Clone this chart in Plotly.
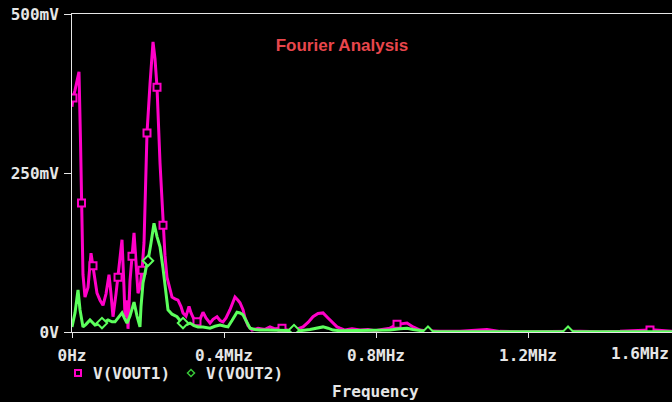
import numpy as np
import plotly.graph_objects as go

# ---------------- data (frequency in kHz, amplitude in mV) ----------------
freq_vout1 = [0, 2.6, 7.9, 18.4, 22.4, 25.0, 28.9, 34.2, 42.1, 50.0, 55.3, 65.8, 73.7,
              81.6, 89.5, 97.4, 102.6, 107.9, 115.8, 121.1, 131.6, 136.8, 139.5, 144.7,
              147.4, 152.6, 157.9, 163.2, 168.4, 173.7, 178.9, 184.2, 189.5, 192.1, 197.4,
              205.3, 213.2, 218.4, 223.7, 231.6, 239.5, 244.7, 250.0, 257.9, 263.2, 271.1,
              278.9, 286.8, 292.1, 300.0, 307.9, 313.2, 321.1, 328.9, 336.8, 344.7, 352.6,
              363.2, 371.1, 381.6, 389.5, 397.4, 405.3, 415.8, 428.9, 436.8, 442.1, 450.0,
              455.3, 463.2, 473.7, 489.5, 507.9, 521.1, 534.2, 552.6, 565.8, 581.6, 594.7,
              607.9, 621.1, 634.2, 647.4, 660.5, 673.7, 686.8, 697.4, 705.3, 718.4, 736.8,
              757.9, 778.9, 797.4, 815.8, 836.8, 855.3, 868.4, 881.6, 889.5, 897.4, 915.8,
              928.9, 968.4, 1021.0, 1092.0, 1126.0, 1179.0, 1232.0, 1284.0, 1337.0, 1389.0,
              1442.0, 1521.0, 1534.0, 1579.0]
vout1_mV = [354, 368, 380, 409, 300, 203, 90, 55, 70, 124, 104, 61, 50,
            42, 60, 90, 60, 24, 60, 86, 145, 70, 24, 50,
            5, 80, 119, 156, 110, 61, 70, 97, 140, 212, 313,
            390, 456, 430, 385, 266, 168, 120, 86, 65, 55, 52,
            50, 40, 30, 25, 40, 30, 20, 16, 20, 31, 22,
            14, 20, 24, 18, 16, 22, 35, 55, 50, 46, 35,
            22, 10, 3, 6, 4, 8, 5, 6, 3, 2, 5,
            8, 15, 24, 29, 30, 22, 14, 8, 6, 3, 5,
            3, 4, 2, 4, 6, 12, 13, 14, 11, 8, 3,
            2, 1, 1, 4, 1, 0.5, 1, 0.5, 1, 0.5,
            1, 3, 3, 1]
markers_vout1 = [2.6, 25.0, 55.3, 121.1, 157.9, 184.2, 197.4, 223.7, 239.5, 328.9,
                 552.6, 855.3, 1521.0]

freq_vout2 = [0, 7.9, 15.8, 21.1, 28.9, 36.8, 47.4, 55.3, 60.5, 71.1, 78.9, 86.8, 94.7,
              105.3, 113.2, 121.1, 131.6, 139.5, 144.7, 152.6, 163.2, 171.1, 178.9, 181.6,
              186.8, 194.7, 200.0, 207.9, 215.8, 223.7, 231.6, 239.5, 244.7, 252.6, 263.2,
              276.3, 284.2, 292.1, 302.6, 310.5, 321.1, 331.6, 344.7, 363.2, 376.3, 389.5,
              402.6, 410.5, 421.1, 434.2, 442.1, 450.0, 460.5, 468.4, 481.6, 494.7, 513.2,
              534.2, 560.5, 584.2, 600.0, 626.3, 647.4, 660.5, 673.7, 686.8, 705.3, 731.6,
              757.9, 784.2, 810.5, 836.8, 863.2, 881.6, 897.4, 915.8, 936.8, 1000.0, 1100.0,
              1200.0, 1305.3, 1400.0, 1500.0, 1579.0]
vout2_mV = [8, 30, 66, 35, 8, 12, 19, 14, 11, 13, 14, 16, 19,
            16, 16, 22, 30, 20, 14, 25, 47, 25, 8, 40,
            77, 100, 112, 140, 171, 150, 134, 100, 77, 35, 28,
            24, 18, 14, 12, 14, 10, 8, 8, 6, 9, 11,
            9, 8, 18, 31, 30, 27, 15, 6, 4, 3, 3,
            3, 3, 3, 2, 4, 7, 8, 6, 3, 2, 2,
            2, 3, 2, 3, 5, 6, 4, 2, 0.5, 0.5, 0.5,
            0.5, 0.5, 0.5, 0.5, 0.5]
markers_vout2 = [78.9, 200.0, 292.1, 584.2, 936.8, 1305.3]

x_tickvals = [0, 400, 800, 1200]
x_ticktext = ["0Hz", "0.4MHz", "0.8MHz", "1.2MHz"]
y_tickvals = [0, 250, 500]
y_ticktext = ["0V", "250mV", "500mV"]

# ---------------- style ----------------
PINK = "#ff00c8"
GREEN = "#5cff5c"
GREEN_DARK = "#38c838"
AXIS = "#e6e6e6"
MONO = dict(family="DejaVu Sans Mono", size=16, color=AXIS, weight="bold")

fig = go.Figure()

f1 = np.array(freq_vout1)
v1 = np.array(vout1_mV)
m1 = np.isin(f1, markers_vout1)
f2 = np.array(freq_vout2)
v2 = np.array(vout2_mV)
m2 = np.isin(f2, markers_vout2)

fig.add_trace(go.Scatter(x=f1, y=v1, mode="lines", name="V(VOUT1)",
                         line=dict(color=PINK, width=3), showlegend=False))
fig.add_trace(go.Scatter(x=f1[m1], y=v1[m1], mode="markers", name="V(VOUT1)",
                         marker=dict(symbol="square", size=7, color="black",
                                     line=dict(color=PINK, width=2)),
                         showlegend=False))
fig.add_trace(go.Scatter(x=f2, y=v2, mode="lines", name="V(VOUT2)",
                         line=dict(color=GREEN, width=3), showlegend=False))
fig.add_trace(go.Scatter(x=f2[m2], y=v2[m2], mode="markers", name="V(VOUT2)",
                         marker=dict(symbol="diamond", size=8, color="black",
                                     line=dict(color=GREEN, width=2)),
                         showlegend=False))

W, H = 672, 402
L, R, T, B = 72, 0, 14, 70
PW, PH = W - L - R, H - T - B


def px(xp):
    return (xp - L) / PW


def py(yp):
    return (H - B - yp) / PH


fig.update_layout(
    width=W, height=H,
    margin=dict(l=L, r=R, t=T, b=B, pad=0),
    paper_bgcolor="black", plot_bgcolor="black",
    showlegend=False,
    title=dict(text="Fourier Analysis", x=342 / W, xanchor="center",
               y=1 - 45 / H, yanchor="middle",
               font=dict(family="Liberation Sans", size=17, color="#e8464c",
                         weight="bold")),
    xaxis=dict(range=[0, 1578.9], showgrid=False, zeroline=False,
               showline=True, linecolor=AXIS, linewidth=1, mirror=True,
               ticks="outside", ticklen=5, tickcolor=AXIS, tickwidth=1,
               tickvals=x_tickvals, ticktext=x_ticktext, tickfont=MONO,
               ticklabelstandoff=4),
    yaxis=dict(range=[0, 500], showgrid=False, zeroline=False,
               showline=True, linecolor=AXIS, linewidth=1,
               ticks="outside", ticklen=7, tickcolor=AXIS, tickwidth=1,
               tickvals=y_tickvals, ticktext=y_ticktext, tickfont=MONO,
               ticklabelstandoff=2),
)

# 1.6MHz label (at the right edge, as in the original)
fig.add_annotation(text="1.6MHz", xref="paper", yref="paper",
                   x=px(671), y=py(353), xanchor="right", yanchor="middle",
                   showarrow=False, font=MONO)

# x-axis title
fig.add_annotation(text="Frequency", xref="paper", yref="paper",
                   x=px(375), y=py(391), xanchor="center", yanchor="middle",
                   showarrow=False, font=MONO)

# legend (symbol + label)
fig.add_annotation(text="V(VOUT1)", xref="paper", yref="paper",
                   x=px(91), y=py(373), xanchor="left", yanchor="middle",
                   showarrow=False, font=MONO)
fig.add_annotation(text="V(VOUT2)", xref="paper", yref="paper",
                   x=px(204), y=py(373), xanchor="left", yanchor="middle",
                   showarrow=False, font=MONO)
fig.add_shape(type="rect", xref="paper", yref="paper",
              x0=px(75), x1=px(81), y0=py(376), y1=py(370),
              line=dict(color=PINK, width=2), fillcolor="black")
cx, cy, d = 191, 373, 3.5
fig.add_shape(type="path", xref="paper", yref="paper",
              path=(f"M {px(cx - d)} {py(cy)} L {px(cx)} {py(cy - d)} "
                    f"L {px(cx + d)} {py(cy)} L {px(cx)} {py(cy + d)} Z"),
              line=dict(color=GREEN_DARK, width=1.5), fillcolor="black")

fig.write_html("out.html",
               config={"displayModeBar": False},
               post_script="document.body.style.margin='0px';"
                           "document.body.style.background='black';")
